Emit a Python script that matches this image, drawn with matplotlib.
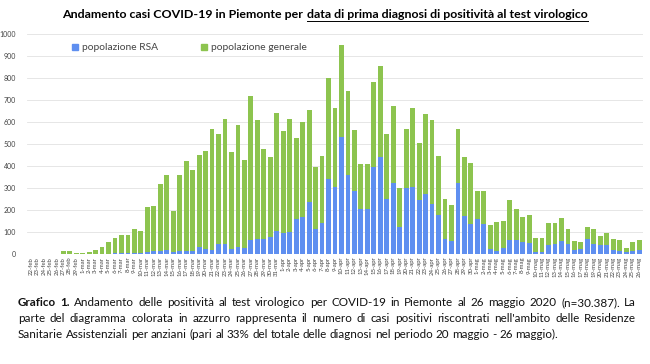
import matplotlib
matplotlib.use("Agg")
import matplotlib.pyplot as plt
from matplotlib.patches import Patch
from matplotlib.lines import Line2D
import numpy as np

# dates 22-feb .. 26-mag
mesi = [("feb", range(22, 30)), ("mar", range(1, 32)), ("apr", range(1, 31)), ("mag", range(1, 27))]
date_labels = ["{}-{}".format(d, m) for m, days in mesi for d in days]

# total positives per day (RSA + general population)
totale = [0, 0, 0, 0, 0, 12, 12, 5, 5, 9,
          18, 33, 56, 74, 88, 88, 114, 106, 212, 220,
          318, 359, 195, 359, 423, 382, 450, 468, 568, 544,
          612, 465, 586, 427, 718, 609, 477, 442, 639, 561,
          612, 529, 600, 653, 394, 445, 801, 665, 948, 742,
          564, 409, 409, 783, 855, 544, 671, 302, 568, 665,
          503, 636, 609, 445, 250, 223, 568, 442, 412, 288,
          285, 132, 147, 152, 244, 205, 167, 179, 71, 74,
          139, 139, 165, 112, 61, 55, 121, 112, 83, 94,
          67, 64, 27, 55, 64]

# positives in RSA (blue part)
rsa = [0, 0, 0, 0, 0, 0, 0, 0, 0, 0,
       0, 0, 2, 3, 4, 4, 6, 6, 10, 12,
       14, 16, 10, 14, 12, 14, 33, 23, 18, 44,
       47, 23, 33, 29, 64, 67, 68, 76, 105, 97,
       102, 159, 170, 236, 112, 139, 339, 306, 533, 359,
       286, 205, 205, 397, 442, 250, 324, 124, 298, 303,
       245, 271, 227, 177, 67, 59, 324, 174, 138, 158,
       135, 21, 15, 26, 64, 64, 55, 48, 11, 8,
       42, 45, 61, 45, 18, 23, 70, 44, 39, 39,
       18, 15, 8, 12, 20]

generale = [t - r for t, r in zip(totale, rsa)]

blu = "#5f8ff0"
verde = "#8dc44f"
plt.rcParams["font.family"] = ["Lato", "DejaVu Sans"]

fig = plt.figure(figsize=(6.5, 3.64), dpi=100)
ax = fig.add_axes([27 / 650, 1 - 254 / 364, 616 / 650, 220 / 364])

x = np.arange(len(date_labels))
ax.bar(x, rsa, width=0.75, color=blu, zorder=3)
ax.bar(x, generale, width=0.75, bottom=rsa, color=verde, zorder=3)

ax.set_ylim(0, 1000)
ax.set_xlim(-0.6, len(date_labels) - 0.4)
ax.set_yticks(range(0, 1001, 100))
ax.tick_params(axis="y", labelsize=5, colors="#444444", length=0, pad=8)
ax.set_xticks(x)
ax.set_xticklabels(date_labels, rotation=90, fontsize=4.3, color="#444444")
ax.tick_params(axis="x", length=0, pad=2)
ax.grid(axis="y", color="#e2e2e2", linewidth=0.6, zorder=0)
for s in ax.spines.values():
    s.set_visible(False)

handles = [Patch(color=blu, label="popolazione RSA"), Patch(color=verde, label="popolazione generale")]
ax.legend(handles=handles, loc="upper left", bbox_to_anchor=(0.058, 1.0), ncol=2, frameon=False,
          fontsize=7.4, handlelength=0.55, handleheight=0.55, handletextpad=0.4,
          columnspacing=4.2, labelcolor="#444444")

fig.canvas.draw()
r = fig.canvas.get_renderer()


def width_px(t):
    return t.get_window_extent(renderer=r).width


# title with underlined part
ty = 1 - 18 / 364
t1 = fig.text(0, ty, "Andamento casi COVID-19 in Piemonte per", fontsize=8.9, fontweight="bold",
              va="baseline", ha="left")
t2 = fig.text(0, ty, "data di prima diagnosi di positività al test virologico", fontsize=8.9,
              fontweight="bold", va="baseline", ha="left")
gap = 4
w1, w2 = width_px(t1), width_px(t2)
x0 = (650 - (w1 + gap + w2)) / 2
t1.set_x(x0 / 650)
t2.set_x((x0 + w1 + gap) / 650)
uy = 1 - 21 / 364
fig.add_artist(Line2D([(x0 + w1 + gap) / 650, (x0 + w1 + gap + w2) / 650], [uy, uy],
                      color="black", linewidth=0.7, transform=fig.transFigure))


# caption, justified lines
def riga(parole, y, left, right, justify):
    ts = []
    for p, bold in parole:
        ts.append(fig.text(0, y, p, fontsize=8.4, fontweight="bold" if bold else "normal",
                           va="baseline", ha="left", color="#111111"))
    ws = [width_px(t) for t in ts]
    if justify:
        sp = (right - left - sum(ws)) / (len(ts) - 1)
    else:
        sp = 2.8
    pos = left
    for t, w in zip(ts, ws):
        t.set_x(pos / 650)
        pos += w + sp


righe = [
    "Grafico 1. Andamento delle positività al test virologico per COVID-19 in Piemonte al 26 maggio 2020 (n=30.387). La",
    "parte del diagramma colorata in azzurro rappresenta il numero di casi positivi riscontrati nell'ambito delle Residenze",
    "Sanitarie Assistenziali per anziani (pari al 33% del totale delle diagnosi nel periodo 20 maggio - 26 maggio).",
]
ys = [306, 322, 338]
for i, (testo, yy) in enumerate(zip(righe, ys)):
    parole = [(w, i == 0 and j < 2) for j, w in enumerate(testo.split(" "))]
    riga(parole, 1 - yy / 364, 18, 636, i < 2)

fig.savefig("out.png", dpi=100)
